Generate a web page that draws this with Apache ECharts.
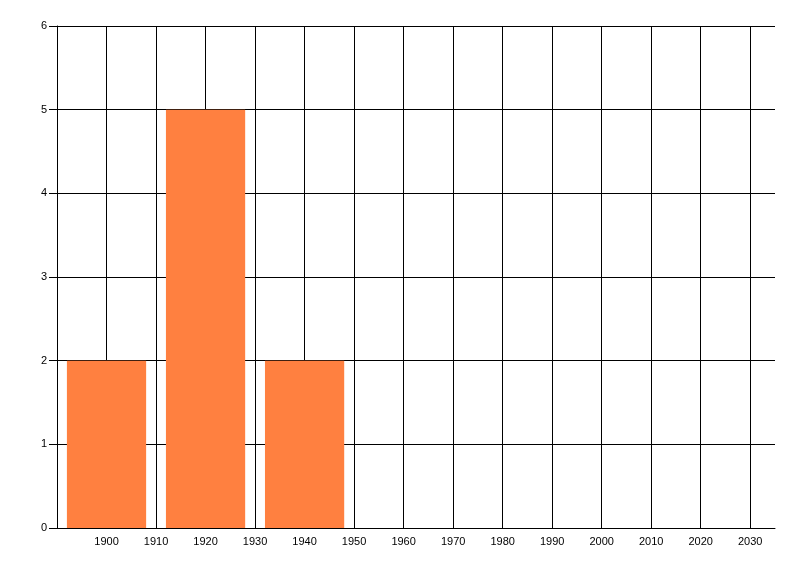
<!DOCTYPE html>
<html>
<head>
<meta charset="utf-8">
<script src="https://cdn.jsdelivr.net/npm/echarts@6/dist/echarts.min.js"></script>
<style>html,body{margin:0;padding:0;background:#fff}#c{width:800px;height:576px}</style>
</head>
<body>
<div id="c"></div>
<script>
const binStart = [1892, 1912, 1932];
const binEnd = [1908, 1928, 1948];
const counts = [2, 5, 2];
const xMin = 1890, xMax = 2035, xStep = 10;
const yMin = 0, yMax = 6, yStep = 1;

const data = counts.map((v, i) => [binStart[i], binEnd[i], v]);
const chart = echarts.init(document.getElementById('c'), null, {renderer: 'canvas'});
const font = {color: '#000', fontFamily: 'Liberation Sans, Arial, sans-serif', fontSize: 11};
chart.setOption({
  animation: false,
  backgroundColor: '#fff',
  grid: {left: 57, right: 25, top: 26, bottom: 48, containLabel: false},
  xAxis: {
    type: 'value', min: xMin, max: xMax, interval: xStep,
    axisLine: {show: true, onZero: false, lineStyle: {color: '#000', width: 1}},
    axisTick: {show: false},
    axisLabel: Object.assign({margin: 8, showMaxLabel: false, showMinLabel: false,
      formatter: function (v) { return String(v); }}, font),
    splitLine: {show: true, showMaxLine: false, lineStyle: {color: '#000', width: 1}}
  },
  yAxis: {
    type: 'value', min: yMin, max: yMax, interval: yStep,
    axisLine: {show: true, lineStyle: {color: '#000', width: 1}},
    axisTick: {show: true, length: 8, lineStyle: {color: '#000'}},
    axisLabel: Object.assign({margin: 10}, font),
    splitLine: {show: true, lineStyle: {color: '#000', width: 1}}
  },
  series: [{
    type: 'custom',
    data: data,
    encode: {x: [0, 1], y: 2},
    renderItem: function (params, api) {
      const p0 = api.coord([api.value(0), api.value(2)]);
      const p1 = api.coord([api.value(1), 0]);
      return {
        type: 'rect',
        shape: {x: p0[0], y: p0[1], width: p1[0] - p0[0], height: p1[1] - p0[1]},
        style: {fill: '#FF8040'}
      };
    }
  }]
});
</script>
</body>
</html>
